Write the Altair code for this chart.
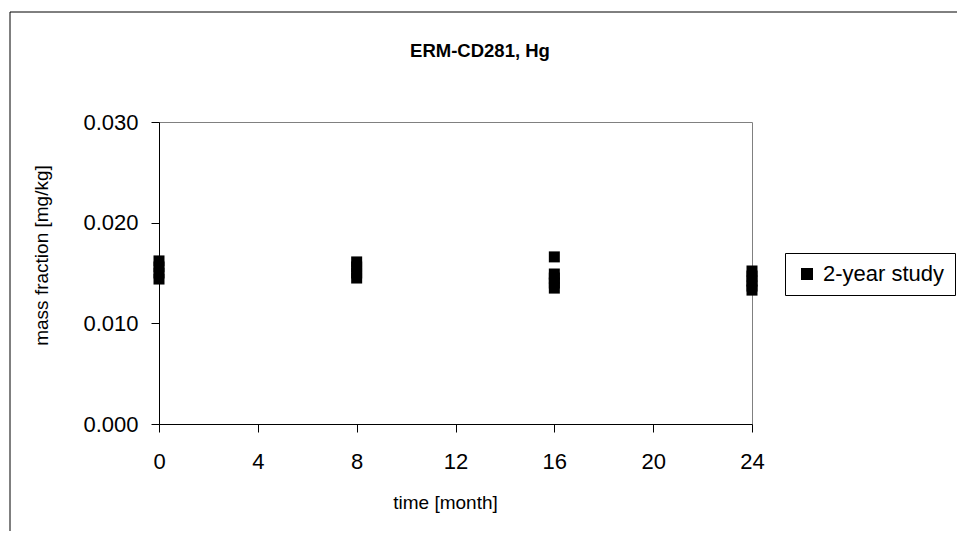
import altair as alt
import pandas as pd

months = [0, 0, 0, 0, 8, 8, 8, 8, 16, 16, 16, 16, 16, 24, 24, 24, 24, 24]
mass_fraction = [0.0162, 0.0156, 0.0150, 0.0144,
                 0.0161, 0.0156, 0.0150, 0.0145,
                 0.0166, 0.0149, 0.0145, 0.0140, 0.0135,
                 0.0152, 0.0147, 0.0142, 0.0137, 0.0133]
series = ["2-year study"] * len(months)
x_ticks = [0, 4, 8, 12, 16, 20, 24]
y_ticks = [0.0, 0.01, 0.02, 0.03]
title_text = ["ERM-CD281, Hg"]

df = pd.DataFrame({"time": months, "mf": mass_fraction, "series": series})

FONT = "Liberation Sans"

frame = alt.Chart(pd.DataFrame({"a": [0]})).mark_rect(
    fill=None, stroke="black", strokeWidth=1, clip=False
).encode(
    x=alt.value(-149), x2=alt.value(810),
    y=alt.value(-110), y2=alt.value(412)
)

title = alt.Chart(pd.DataFrame({"t": title_text})).mark_text(
    font=FONT, fontSize=18.5, fontWeight="bold", color="black",
    align="center", baseline="alphabetic"
).encode(
    text="t:N", x=alt.value(321), y=alt.value(-65)
)

points = alt.Chart(df).mark_point(
    shape="square", filled=True, size=121, opacity=1
).encode(
    x=alt.X("time:Q",
            scale=alt.Scale(domain=[0, 24], nice=False),
            axis=alt.Axis(values=x_ticks, title="time [month]", grid=False,
                          tickSize=8, labelPadding=19, titlePadding=21,
                          labelFlush=False, titleX=286)),
    y=alt.Y("mf:Q",
            scale=alt.Scale(domain=[0, 0.03], nice=False),
            axis=alt.Axis(values=y_ticks, format=".3f", title="mass fraction [mg/kg]",
                          grid=False, tickSize=8, labelPadding=13, titlePadding=31,
                          labelFlush=False, titleY=133)),
    color=alt.Color("series:N", scale=alt.Scale(range=["black"]),
                    legend=alt.Legend(title=None, orient="none", legendX=626, legendY=131,
                                      strokeColor="black", padding=10,
                                      symbolType="square", symbolSize=144,
                                      symbolOffset=1, labelOffset=5,
                                      labelFontSize=22, labelFont=FONT,
                                      labelColor="black", fillColor="white")),
)

chart = alt.layer(frame, title, points).properties(
    width=593, height=302,
    autosize=alt.AutoSizeParams(type="none"),
    padding={"left": 151, "top": 114, "right": 205, "bottom": 107},
).configure_view(
    stroke="#808080", strokeWidth=1
).configure_axis(
    labelFont=FONT, titleFont=FONT, labelFontSize=22, titleFontSize=19,
    labelColor="black", titleColor="black", titleFontWeight="normal",
    domainColor="black", tickColor="black", domainWidth=1
)

chart.save("out.html", embed_options={"renderer": "svg", "actions": False})
